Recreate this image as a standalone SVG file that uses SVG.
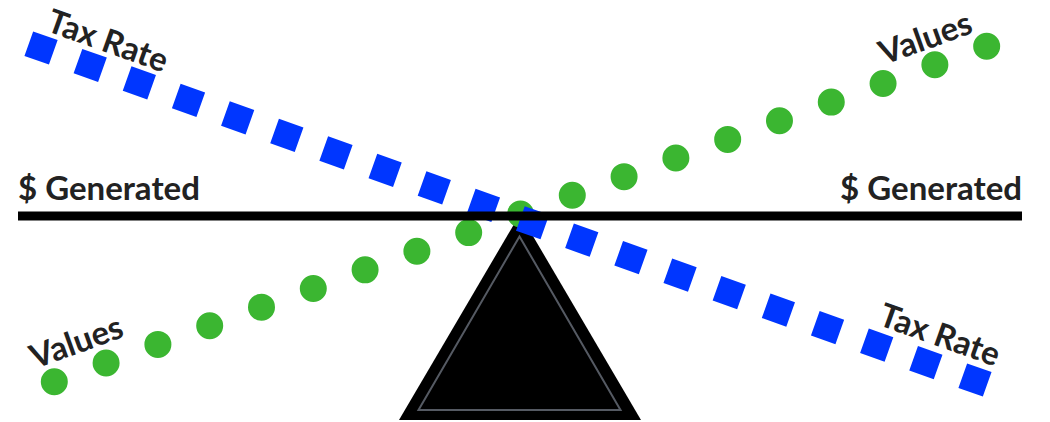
<svg xmlns="http://www.w3.org/2000/svg" width="1050" height="422" viewBox="0 0 1050 422">
  <style>
    .lbl { font-family: Lato, "Liberation Sans", sans-serif; font-weight: 700; font-size: 33px; fill: #222222; }
    .blue { stroke: #0036ff; stroke-width: 26; stroke-dasharray: 26 26.17; fill: none; }
    .green { stroke: #3bb631; stroke-width: 27; stroke-linecap: round; stroke-dasharray: 0 55.05; fill: none; }
  </style>
  <rect width="1050" height="422" fill="#ffffff"/>
  <g id="fulcrum">
    <polygon points="520,214 399,420 641,420" fill="#000000"/>
    <polygon points="519.5,236.5 418.5,410 620.5,410" fill="none" stroke="#555a63" stroke-width="2"/>
  </g>
  <g id="connectors">
    <line id="values-line" class="green" x1="54.3" y1="381.7" x2="988.3" y2="45.6"/>
    <line id="tax-line" class="blue" x1="28.8" y1="43.65" x2="987.2" y2="384.35"/>
  </g>
  <g id="beam">
    <line x1="18" y1="216" x2="1022" y2="216" stroke="#000000" stroke-width="9"/>
  </g>
  <g id="labels">
    <text class="lbl" x="18" y="200">$ Generated</text>
    <text class="lbl" x="1022" y="200" text-anchor="end">$ Generated</text>
    <text class="lbl" transform="translate(45,30.5) rotate(19.6)">Tax Rate</text>
    <text class="lbl" transform="translate(877,324.5) rotate(19.6)">Tax Rate</text>
    <text class="lbl" transform="translate(884,65) rotate(-19.8)">Values</text>
    <text class="lbl" transform="translate(35,369) rotate(-19.8)">Values</text>
  </g>
</svg>
